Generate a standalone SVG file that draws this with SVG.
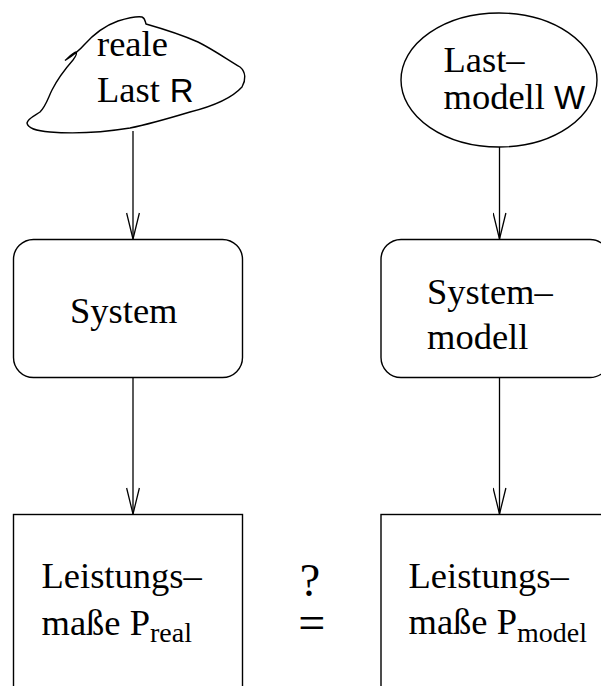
<svg xmlns="http://www.w3.org/2000/svg" width="601" height="686" viewBox="0 0 601 686">
  <defs>
    <style>
      .shape { fill: #ffffff; stroke: #000000; stroke-width: 1.4; }
      .edge { fill: none; stroke: #000000; stroke-width: 1.3; }
      .serif { font-family: "Liberation Serif", "Times New Roman", serif; font-size: 36.5px; fill: #000000; }
      .sans { font-family: "Liberation Sans", Arial, sans-serif; font-size: 33px; }
      .sub { font-size: 28px; }
      .q { font-size: 46px; }
      .eq { font-size: 48px; }
    </style>
    <marker id="vee" viewBox="0 0 28 14" refX="27" refY="7" markerWidth="28" markerHeight="14" markerUnits="userSpaceOnUse" orient="auto">
      <path d="M1,0.6 L27,7 L1,13.4" fill="none" stroke="#000000" stroke-width="1.3"/>
    </marker>
  </defs>
  <rect width="601" height="686" fill="#ffffff"/>

  <!-- connectors -->
  <g id="connectors">
    <line class="edge" x1="133" y1="131" x2="133" y2="239" marker-end="url(#vee)"/>
    <line class="edge" x1="133" y1="377" x2="133" y2="514" marker-end="url(#vee)"/>
    <line class="edge" x1="499.5" y1="147" x2="499.5" y2="239" marker-end="url(#vee)"/>
    <line class="edge" x1="499.5" y1="377" x2="499.5" y2="514" marker-end="url(#vee)"/>
  </g>

  <!-- real load: hand-drawn blob -->
  <g id="real-load">
    <path class="shape" d="M65,60.5 C72,56 78,52 84,45 C92,36 104,26 118,21 C128,18 136,16 142,17 C145,18 145,21 146,24 C160,28 180,34 198,42 C214,50 228,60 240,67 C246,72 246,80 242,87 C232,98 214,106 190,112 C170,118 150,124 130,128 C105,132 75,134 50,132 C36,131 28,128 27,123 C28,118 36,115 40,112 C46,106 48,98 52,90 C58,78 66,68 73,60 C76,56 77,53 76,52 C74,52 70,56 65,60.5 Z"/>
    <text class="serif" x="97" y="56">reale</text>
    <text class="serif" x="97" y="102">Last<tspan class="sans" dx="10">R</tspan></text>
  </g>

  <!-- load model -->
  <g id="load-model">
    <ellipse class="shape" cx="499" cy="80" rx="98" ry="67"/>
    <text class="serif" x="443.5" y="72">Last–</text>
    <text class="serif" x="443.5" y="108.5">modell<tspan class="sans" dx="9">W</tspan></text>
  </g>

  <!-- real system -->
  <g id="system">
    <rect class="shape" x="13.5" y="239.5" width="229" height="138" rx="20" ry="20"/>
    <text class="serif" x="70" y="322.5">System</text>
  </g>

  <!-- system model -->
  <g id="system-model">
    <rect class="shape" x="381" y="239.5" width="229" height="138" rx="20" ry="20"/>
    <text class="serif" x="427" y="303.5">System–</text>
    <text class="serif" x="427" y="348.5">modell</text>
  </g>

  <!-- measured performance -->
  <g id="perf-real">
    <rect class="shape" x="13.5" y="514.5" width="229" height="190"/>
    <text class="serif" x="41.5" y="587.5">Leistungs–</text>
    <text class="serif" x="41.5" y="634.5">maße P<tspan class="sub" dy="7.5">real</tspan></text>
  </g>

  <!-- modelled performance -->
  <g id="perf-model">
    <rect class="shape" x="381" y="514.5" width="229" height="190"/>
    <text class="serif" x="408.5" y="588">Leistungs–</text>
    <text class="serif" x="408.5" y="634">maße P<tspan class="sub" dy="7.5">model</tspan></text>
  </g>

  <!-- comparison sign -->
  <g id="compare">
    <text class="serif q" x="310" y="596" text-anchor="middle">?</text>
    <text class="serif eq" x="311.8" y="639" text-anchor="middle">=</text>
  </g>
</svg>
